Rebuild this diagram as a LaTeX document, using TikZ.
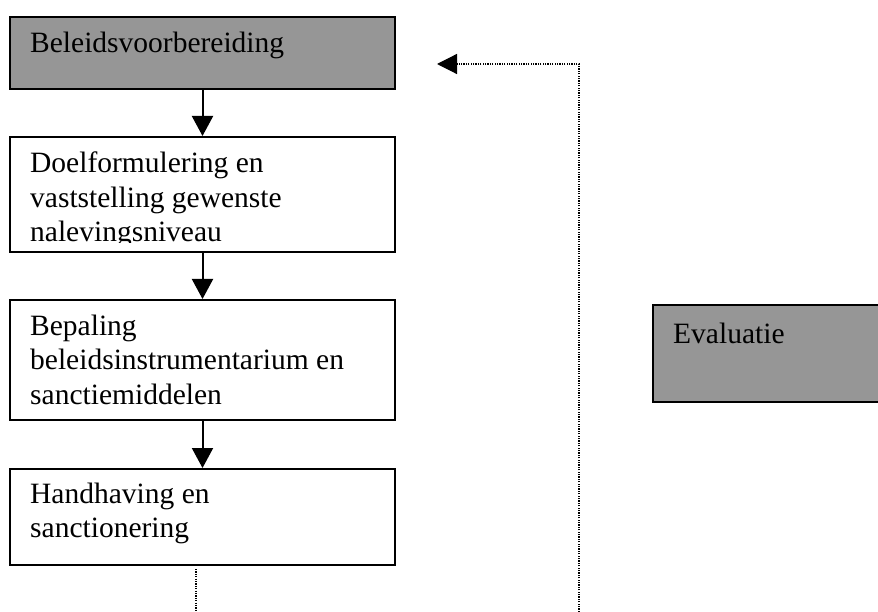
\documentclass[tikz,border=0pt]{standalone}
\usepackage{fontspec}
\setmainfont{Liberation Serif}
\usetikzlibrary{arrows.meta}
\definecolor{boxgray}{RGB}{150,150,150}
\begin{document}
\begin{tikzpicture}[x=1pt,y=-1pt,
  box/.style={draw=black, line width=2pt, rectangle, anchor=north west, inner sep=0pt},
  lbl/.style={anchor=base west, align=left, inner sep=0pt, font=\fontsize{29.5}{34.5}\selectfont},
  flow/.style={line width=2pt, -{Triangle[width=21pt,length=20pt]}},
  fb/.style={line width=1.2pt, dash pattern=on 1.2pt off 1.2pt},
]
\useasboundingbox (0,0) rectangle (878,612);
\node[box, fill=boxgray, minimum width=385pt, minimum height=72pt] (b1) at (9,16) {};
\node[box, fill=white, minimum width=385pt, minimum height=115pt] (b2) at (9,136) {};
\node[box, fill=white, minimum width=385pt, minimum height=120pt] (b3) at (9,299) {};
\node[box, fill=white, minimum width=385pt, minimum height=96pt] (b4) at (9,468) {};
\node[box, fill=boxgray, minimum width=260pt, minimum height=97pt] (b5) at (652,304) {};

% multi-line nodes: the base anchor is the baseline of the last line
\node[lbl] (t1) at (30,53) {Beleidsvoorbereiding};
\begin{scope}
  \clip (9,136) rectangle (394,243);
  \node[lbl] (t2) at (30,242) {Doelformulering en\\vaststelling gewenste\\nalevingsniveau};
\end{scope}
\node[lbl] (t3) at (30,404) {Bepaling\\beleidsinstrumentarium en\\sanctiemiddelen};
\node[lbl] (t4) at (30,537.5) {Handhaving en\\sanctionering};
\node[lbl] (t5) at (673,343) {Evaluatie};

\draw[flow] (b1) -- (b2);
\draw[flow] (b2) -- (b3);
\draw[flow] (b3) -- (b4);

\coordinate (fbA) at (196,612);
\coordinate (fbB) at (579,612);
\coordinate (fbC) at (579,64);
\coordinate (fbD) at (437,64);
\draw[fb] ([yshift=-3pt]b4.south -| fbA) -- (fbA);
\draw[fb, -{Triangle[width=20pt,length=20pt]}] (fbB) -- (fbC) -- (fbD);
\end{tikzpicture}
\end{document}
